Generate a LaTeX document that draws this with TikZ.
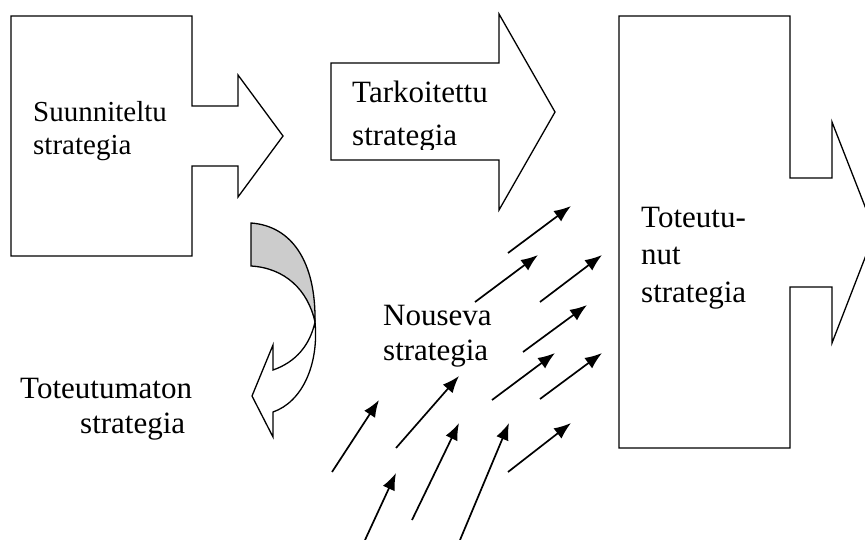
\documentclass[tikz,border=0pt]{standalone}
\usepackage{fontspec}
\setmainfont{Liberation Serif}
\usetikzlibrary{arrows.meta}
\tikzset{
  blockarrow/.style={draw, line width=1.3pt, fill=white, line join=miter},
  twist/.style={draw, line width=1.3pt},
  strat/.style={inner sep=0pt, anchor=base west, font=\fontsize{31}{35}\selectfont},
  emerge/.style={line width=1.7pt, -{Latex[length=17pt,width=13pt]}},
}
\begin{document}
\begin{tikzpicture}[x=1pt, y=-1pt]
            \clip (0, 0) rectangle (865, 540);
            \useasboundingbox (0, 0) rectangle (865, 540);
            % block arrows
            \draw[blockarrow](11, 16)--(192, 16)--(192, 106)--(238, 106)--(238, 75)--(283, 136)--(238, 197)--(238, 166)--(192, 166)--(192, 256)--(11, 256)--cycle;
            \draw[blockarrow](331, 63)--(499, 63)--(499, 14)--(555, 112)--(499, 210)--(499, 160)--(331, 160)--cycle;
            \draw[blockarrow](619, 16)--(790, 16)--(790, 178)--(832, 178)--(832, 122)--(875, 232)--(832, 343)--(832, 287)--(790, 287)--(790, 448)--(619, 448)--cycle;
            % curved arrow
            \draw[twist, fill=black!20](251, 223) .. controls (292, 226) and (316, 262) .. (315, 322) .. controls (308, 290) and (285, 268) .. (251, 266)--cycle;
            \draw[twist, fill=white](315, 322) .. controls (319, 365) and (302, 402) .. (273, 412)--(273, 437)--(252, 396)--(273, 345)--(273, 370) .. controls (296, 362) and (310, 345) .. (315, 322)--cycle;
            % texts
            \node[strat, font=\fontsize{29}{33}\selectfont](plan1) at (33, 122) {Suunniteltu};
            \node[strat, font=\fontsize{29}{33}\selectfont](plan2) at (33, 155) {strategia};
            \node[strat](intend1) at (352, 103) {Tarkoitettu};
            \begin{scope}
                \clip (331, 63) rectangle (499, 150);
                \node[strat](intend2) at (352, 146) {strategia};
            \end{scope}
            \node[strat](real1) at (641, 228) {Toteutu-};
            \node[strat](real2) at (641, 265) {nut};
            \node[strat](real3) at (641, 302) {strategia};
            \node[strat](emerg1) at (383, 325) {Nouseva};
            \node[strat](emerg2) at (383, 360) {strategia};
            \node[strat](unreal1) at (20, 398) {Toteutumaton};
            \node[strat](unreal2) at (80, 433) {strategia};
            % emerging arrows
            \foreach \i/\tx/\ty/\hx/\hy in {1/508/253/571/206, 2/475/302/538/255, 3/540/302/602/255,
                4/523/352/587/305, 5/492/400/555/353, 6/540/399/602/353, 7/508/472/571/423,
                8/396/448/459/376, 9/332/472/379/400, 10/365/540/396/473, 11/412/520/459/423,
                12/460/540/509/423}{
                \coordinate (tail\i) at (\tx, \ty);
                \coordinate (head\i) at (\hx, \hy);
                \draw[emerge](tail\i)--(head\i);
            }
        \end{tikzpicture}
\end{document}
